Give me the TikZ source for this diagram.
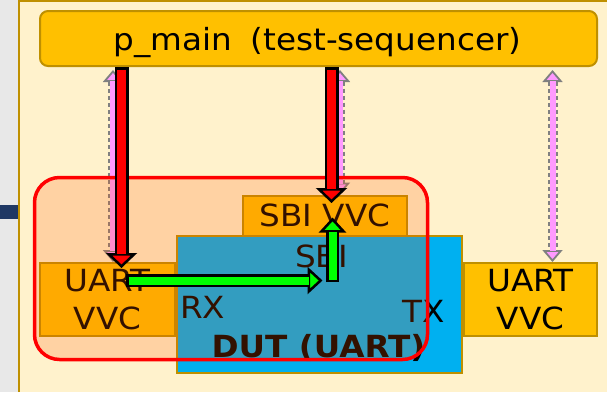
\documentclass[tikz,border=0pt]{standalone}
\usepackage{fontspec}
\setmainfont{DejaVu Sans}[FakeStretch=1.07]
\usetikzlibrary{arrows.meta,calc}
\definecolor{gold}{HTML}{FFC000}
\definecolor{goldb}{HTML}{BF9000}
\definecolor{cream}{HTML}{FFF2CC}
\definecolor{bggray}{HTML}{E8E8E8}
\definecolor{navy}{HTML}{1F3864}
\definecolor{dutblue}{HTML}{00B0F0}
\definecolor{hlfill}{HTML}{FF5500}
\definecolor{pinkc}{HTML}{FF99FF}
\definecolor{dashgray}{HTML}{808080}
\definecolor{greenc}{HTML}{00FF00}
\tikzset{
  box/.style={draw=goldb, line width=2pt, fill=gold, inner sep=0pt, align=center,
    font=\fontsize{30.5}{38}\selectfont},
  txt/.style={inner sep=0pt, font=\fontsize{30.5}{38}\selectfont},
  redout/.style={line width=14pt, draw=black,
    -{Triangle[width=31pt,length=15pt,line width=2.5pt,fill=red]}},
  redin/.style={line width=9pt, draw=red, shorten >=14pt, shorten <=2.5pt},
  greenout/.style={line width=13pt, draw=black,
    -{Triangle[width=27pt,length=15pt,line width=2.5pt,fill=greenc]}},
  greenin/.style={line width=8pt, draw=greenc, shorten >=14pt, shorten <=2.5pt},
  pinkout/.style={line width=10pt, draw=dashgray, dash pattern=on 4pt off 3pt,
    {Triangle[width=20pt,length=12pt,line width=1.8pt,fill=pinkc]}-{Triangle[width=20pt,length=12pt,line width=1.8pt,fill=pinkc]}},
  pinkin/.style={line width=6pt, draw=pinkc, shorten >=11pt, shorten <=11pt},
}
\begin{document}
\begin{tikzpicture}[x=1pt,y=-1pt]
\useasboundingbox (0,0) rectangle (607,392);
% background
\fill[bggray] (0,0) rectangle (607,392);
\fill[cream] (18.5,0) rectangle (607,392);
\draw[goldb, line width=2pt] (18.8,392) -- (18.8,0.9) -- (607,0.9);
\fill[navy] (0,205) rectangle (17.7,219);
% column coordinates
\coordinate (colA) at (121.5,0);
\coordinate (colB) at (331.5,0);
\coordinate (colP1) at (113,0);
\coordinate (colP2) at (340,0);
\coordinate (colP3) at (552.5,0);
\coordinate (gstart) at (126,280.5);
\coordinate (gcorner) at (332.5,280.5);
% boxes
\node[box, rounded corners=8pt, minimum width=557pt, minimum height=55pt] (pmain) at (318.5,38.5) {};
\node[txt, anchor=base] (pmaintxt) at (317.5,50) {p\_main\hspace{0.6em}(test-sequencer)};
\node[box, minimum width=135pt, minimum height=73pt] (uartL) at (107.5,299.5) {UART\\VVC};
\node[draw=goldb, line width=2pt, fill=dutblue, minimum width=285pt, minimum height=137pt] (dut) at (319.5,304.5) {};
\node[box, minimum width=164pt, minimum height=40pt] (sbi) at (325,215.5) {SBI VVC};
\node[box, minimum width=133pt, minimum height=73pt] (uartR) at (530.5,299.5) {UART\\VVC};
% DUT labels
\node[txt, anchor=base] (sbilbl) at (321.5,267) {SBI};
\node[txt, anchor=base west] (rx) at (180,318) {RX};
\node[txt, anchor=base east] (tx) at (445,322) {TX};
\node[txt, anchor=base, font=\bfseries\fontsize{30.5}{34}\selectfont] (dutlbl) at (318.5,357) {DUT (UART)};
% pink dashed double arrows
\draw[pinkout] ($(pmain.south -| colP1)+(0,3)$) -- (uartL.north -| colP1);
\draw[pinkin] ($(pmain.south -| colP1)+(0,3)$) -- (uartL.north -| colP1);
\draw[pinkout] ($(pmain.south -| colP2)+(0,3)$) -- (sbi.north -| colP2);
\draw[pinkin] ($(pmain.south -| colP2)+(0,3)$) -- (sbi.north -| colP2);
\draw[pinkout] ($(pmain.south -| colP3)+(0,3)$) -- (uartR.north -| colP3);
\draw[pinkin] ($(pmain.south -| colP3)+(0,3)$) -- (uartR.north -| colP3);
% highlight region
\node[draw=red, line width=3.5pt, fill=hlfill, fill opacity=0.2, rounded corners=25pt,
  minimum width=393pt, minimum height=182pt, inner sep=0pt] (hl) at (231,268.5) {};
% red arrows
\draw[redout] (pmain.south -| colA) -- ($(uartL.north -| colA)+(0,6)$);
\draw[redin] (pmain.south -| colA) -- ($(uartL.north -| colA)+(0,6)$);
\draw[redout] (pmain.south -| colB) -- ($(sbi.north -| colB)+(0,8.5)$);
\draw[redin] (pmain.south -| colB) -- ($(sbi.north -| colB)+(0,8.5)$);
% green arrows
\draw[greenout] (gstart) -- ($(gcorner)+(-10,0)$);
\draw[greenin] (gstart) -- ($(gcorner)+(-10,0)$);
\draw[greenout] ($(gcorner)+(0,1.5)$) -- ($(sbi.north -| gcorner)+(0,23)$);
\draw[greenin] ($(gcorner)+(0,1.5)$) -- ($(sbi.north -| gcorner)+(0,23)$);
\end{tikzpicture}
\end{document}
